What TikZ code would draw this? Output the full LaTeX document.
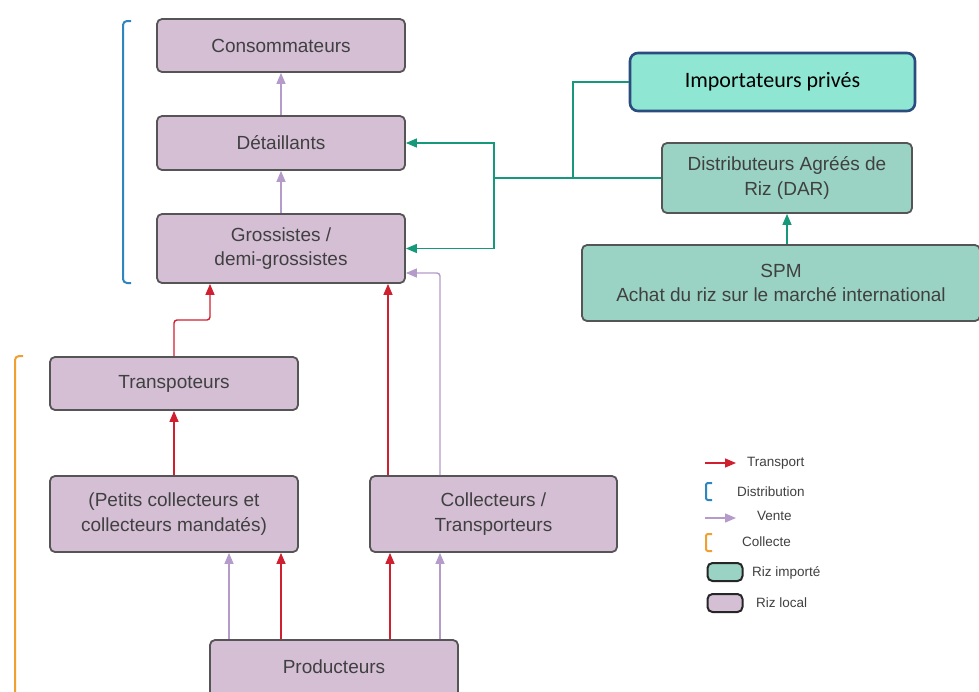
\documentclass[tikz,border=0pt]{standalone}
\usepackage{fontspec}
\setmainfont{Liberation Sans}
\newfontfamily\calib{Carlito}
\usetikzlibrary{arrows.meta}
\definecolor{lfill}{HTML}{D5BFD5}
\definecolor{bord}{HTML}{555555}
\definecolor{ifill}{HTML}{9AD3C3}
\definecolor{impfill}{HTML}{8EE6D3}
\definecolor{impbord}{HTML}{2B4C7E}
\definecolor{txt}{HTML}{404040}
\definecolor{tred}{HTML}{D0202F}
\definecolor{tlav}{HTML}{B59BC9}
\definecolor{tgreen}{HTML}{16997A}
\definecolor{bblue}{HTML}{2E86C1}
\definecolor{borange}{HTML}{F0A030}
\tikzset{
  box/.style={draw=bord, line width=1.8pt, rounded corners=5pt, align=center, text=txt,
    font=\fontsize{19}{24.5}\selectfont, inner sep=2pt},
  lbox/.style={box, fill=lfill},
  ibox/.style={box, fill=ifill},
  transport/.style={draw=tred, line width=1.4pt, -{Triangle[width=9pt,length=11pt]}},
  vente/.style={draw=tlav, line width=1.4pt, -{Triangle[width=9pt,length=11pt]}},
  garrow/.style={draw=tgreen, line width=1.4pt, -{Triangle[width=9pt,length=11pt]}},
  gline/.style={draw=tgreen, line width=1.4pt},
  leg/.style={text=txt, font=\fontsize{13.5}{16}\selectfont, anchor=west, inner sep=0pt},
}
\begin{document}
\begin{tikzpicture}[x=1pt,y=-1pt]
\useasboundingbox[fill=white] (0,0) rectangle (979,691);
% local boxes
\node[lbox, minimum width=248pt, minimum height=53pt] (cons) at (281,45.5) {Consommateurs};
\node[lbox, minimum width=248pt, minimum height=54pt] (det) at (281,143) {Détaillants};
\node[lbox, minimum width=248pt, minimum height=69pt] (gros) at (281,248.5) {Grossistes /\\demi-grossistes};
\node[lbox, minimum width=248pt, minimum height=53pt] (trans) at (174,383.5) {Transpoteurs};
\node[lbox, minimum width=248pt, minimum height=76pt] (petits) at (174,514) {(Petits collecteurs et\\collecteurs mandatés)};
\node[lbox, minimum width=247pt, minimum height=76pt] (coll) at (493.5,514) {Collecteurs /\\Transporteurs};
\node[lbox, minimum width=248pt, minimum height=62pt] (prod) at (334,671) {\raisebox{8pt}{Producteurs}};
% imported boxes
\node[box, fill=impfill, draw=impbord, line width=2.6pt, rounded corners=8pt,
  minimum width=285pt, minimum height=58pt, font=\calib\fontsize{22}{26}\selectfont, text=black] (imp) at (772.5,82) {Importateurs privés};
\node[ibox, minimum width=250pt, minimum height=70pt] (dar) at (787,178) {Distributeurs Agréés de\\Riz (DAR)};
\node[ibox, minimum width=398pt, minimum height=76pt] (spm) at (781,283) {SPM\\Achat du riz sur le marché international};
% brackets
\draw[bblue, line width=2pt, rounded corners=4pt] (131,21) -- (123,21) -- (123,283) -- (131,283);
\draw[borange, line width=2pt, rounded corners=4pt] (23,356) -- (15,356) -- (15,700);
% local flows
\draw[vente] (det.north) -- (cons.south);
\draw[vente] (gros.north) -- (det.south);
\draw[transport] (petits.north) -- (trans.south);
\coordinate (tb) at (174,320);
\coordinate (ga) at ([xshift=-71pt]gros.south);
\draw[transport, rounded corners=3pt] (trans.north) -- (tb) -| (ga);
\coordinate (cr) at ([xshift=-105.5pt]coll.north);
\draw[transport] (cr) -- (cr |- gros.south);
\coordinate (cv) at ([xshift=-53.5pt]coll.north);
\coordinate (gv) at ([yshift=-24.5pt]gros.east);
\draw[vente, rounded corners=3pt] (cv) |- (gv);
\coordinate (p1) at ([xshift=-105pt]prod.north);
\coordinate (p2) at ([xshift=-53pt]prod.north);
\coordinate (p3) at ([xshift=56pt]prod.north);
\coordinate (p4) at ([xshift=106pt]prod.north);
\draw[vente] (p1) -- (p1 |- petits.south);
\draw[transport] (p2) -- (p2 |- petits.south);
\draw[transport] (p3) -- (p3 |- coll.south);
\draw[vente] (p4) -- (p4 |- coll.south);
% imported flows
\draw[garrow] (spm.north -| 787,0) -- (dar.south);
\coordinate (gj) at (494,178);
\coordinate (ij) at (573,178);
\draw[gline] (dar.west) -- (gj);
\draw[gline] (imp.west) -| (ij);
\draw[garrow] (gj) |- (det.east);
\draw[garrow] (gj) |- (gros.east);
% legend
\coordinate (l1a) at (705,463); \coordinate (l1b) at (736,463);
\draw[transport] (l1a) -- (l1b);
\node[leg] (lt1) at (747,463) {Transport};
\draw[bblue, line width=2pt, rounded corners=2pt] (712,483) -- (706,483) -- (706,500) -- (712,500);
\node[leg] (lt2) at (737,492) {Distribution};
\coordinate (l3a) at (705,518); \coordinate (l3b) at (736,518);
\draw[vente] (l3a) -- (l3b);
\node[leg] (lt3) at (757,516) {Vente};
\draw[borange, line width=2pt, rounded corners=2pt] (712,534) -- (706,534) -- (706,551) -- (712,551);
\node[leg] (lt4) at (742,542) {Collecte};
\node[draw=black!85, line width=2pt, rounded corners=5pt, fill=ifill, minimum width=35pt, minimum height=18pt, inner sep=0pt] (lb1) at (725,572) {};
\node[leg] (lt5) at (752,573) {Riz importé};
\node[draw=black!85, line width=2pt, rounded corners=5pt, fill=lfill, minimum width=35pt, minimum height=18pt, inner sep=0pt] (lb2) at (725,603) {};
\node[leg] (lt6) at (756,603) {Riz local};
\end{tikzpicture}
\end{document}
